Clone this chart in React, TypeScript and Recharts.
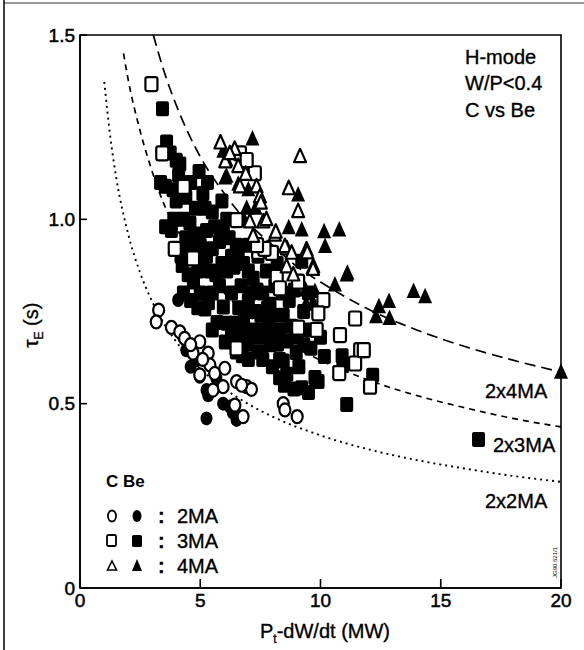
import React from 'react';
import { ScatterChart, Scatter, XAxis, YAxis, ReferenceArea } from 'recharts';

// axis ticks
const xTicks = [0, 5, 10, 15, 20];
const yTicks = [0, 0.5, 1.0, 1.5];

// C wall, 2MA (open circles)
const c2MA = [
  [3.27, 0.754], [3.17, 0.722], [3.8, 0.707], [4.15, 0.695], [4.35, 0.677], [4.98, 0.668],
  [4.7, 0.637], [5.33, 0.637], [5.4, 0.605], [4.98, 0.578], [5.6, 0.582], [6.02, 0.596],
  [6.51, 0.56], [6.93, 0.546], [7.13, 0.539], [6.72, 0.55], [5.95, 0.546], [5.53, 0.537],
  [6.44, 0.496], [6.78, 0.465], [8.45, 0.5], [8.52, 0.483], [9.03, 0.465], [4.6, 0.66], [5.1, 0.62],
];
// Be wall, 2MA (filled circles)
const be2MA = [
  [4.08, 0.781], [4.28, 0.682], [4.42, 0.645], [4.84, 0.618], [4.98, 0.573], [5.26, 0.537],
  [5.33, 0.523], [5.67, 0.569], [5.95, 0.5], [6.23, 0.492], [6.35, 0.476], [5.26, 0.46],
  [6.51, 0.456], [4.6, 0.6],
];
// C wall, 3MA (open squares)
const c3MA = [
  [2.97, 1.367], [3.42, 1.179], [4.31, 1.088], [6.51, 0.998], [7.27, 1.125], [6.65, 1.179],
  [6.93, 1.161], [7.41, 0.912], [4.7, 0.894], [3.94, 0.92], [8.18, 0.844], [8.31, 0.813],
  [10.12, 0.781], [11.44, 0.731], [10.81, 0.686], [11.65, 0.645], [11.44, 0.609], [10.78, 0.583],
  [9.84, 0.7], [9.91, 0.745], [12.06, 0.546], [6.51, 0.65], [9.07, 0.831], [9.07, 0.706],
  [7.98, 0.909], [7.67, 0.92], [7.36, 0.93], [11.8, 0.645],
];
// Be wall, 3MA (filled squares)
const be3MA = [
  [3.43, 1.3], [3.6, 1.21], [3.75, 1.18], [4.0, 1.16], [4.15, 1.15], [4.1, 1.12], [4.95, 1.13],
  [3.35, 1.1], [3.55, 1.09], [3.87, 1.08], [4.0, 1.05], [4.4, 1.06], [5.11, 1.07], [5.2, 1.03],
  [4.8, 1.03], [3.56, 0.98], [3.8, 0.97], [4.57, 0.99], [4.3, 1.0], [5.26, 0.97], [4.9, 0.96],
  [5.6, 0.98], [5.96, 0.965], [4.02, 0.92], [4.2, 0.9], [4.25, 0.875], [4.5, 0.92], [4.7, 0.95],
  [5.0, 0.93], [5.26, 0.9], [5.5, 0.92], [5.8, 0.94], [6.2, 0.95], [6.5, 0.93], [6.58, 0.9],
  [4.72, 0.83], [4.5, 0.85], [4.9, 0.86], [5.1, 0.88], [5.4, 0.86], [5.65, 0.85], [5.9, 0.88],
  [6.1, 0.86], [6.4, 0.87], [6.8, 0.88], [7.0, 0.86], [5.34, 0.774], [5.19, 0.757], [5.5, 0.8],
  [5.8, 0.82], [5.96, 0.762], [6.12, 0.718], [6.04, 0.667], [6.3, 0.8], [6.43, 0.718], [6.6, 0.76],
  [6.7, 0.82], [6.97, 0.661], [7.0, 0.78], [7.2, 0.84], [7.36, 0.808], [7.3, 0.75], [7.52, 0.74],
  [7.6, 0.8], [7.7, 0.68], [7.83, 0.706], [7.9, 0.77], [8.0, 0.74], [8.1, 0.82], [8.21, 0.661],
  [8.3, 0.7], [8.45, 0.616], [8.45, 0.74], [8.6, 0.67], [8.7, 0.78], [8.8, 0.71], [8.99, 0.639],
  [9.0, 0.68], [9.22, 0.543], [9.1, 0.6], [9.3, 0.75], [9.5, 0.7], [9.6, 0.65], [9.77, 0.571],
  [9.22, 0.886], [8.91, 0.808], [9.5, 0.8], [10.16, 0.628], [10.0, 0.68], [10.93, 0.605],
  [11.09, 0.498], [12.17, 0.577], [10.9, 0.63], [7.1, 0.7], [6.8, 0.72], [7.4, 0.64], [7.6, 0.62],
  [8.0, 0.6], [8.3, 0.62], [8.6, 0.58], [7.0, 0.62], [6.5, 0.64], [6.3, 0.69], [5.7, 0.72],
  [5.5, 0.7], [7.75, 0.86], [8.2, 0.88], [7.4, 0.9], [7.0, 0.93], [6.1, 1.0], [5.5, 1.02],
  [4.6, 1.1], [8.5, 0.55], [8.9, 0.54], [9.5, 0.53], [9.9, 0.56], [8.3, 0.57], [7.9, 0.66],
  [7.5, 0.7], [6.9, 0.75], [6.6, 0.68], [4.3, 0.8], [4.6, 0.78], [4.9, 0.76], [5.0, 0.8],
  [4.4, 0.95], [3.9, 1.0], [5.3, 1.1], [5.9, 1.05], [6.3, 0.9], [7.1, 0.8], [7.8, 0.76],
  [8.4, 0.8], [8.1, 0.69], [7.3, 0.68], [6.75, 0.63], [9.3, 0.66], [16.57, 0.403],
];
// C wall, 4MA (open triangles)
const c4MA = [
  [5.84, 1.207], [6.43, 1.19], [6.04, 1.156], [6.23, 1.178], [6.58, 1.143], [6.65, 1.088],
  [6.89, 1.122], [7.34, 1.088], [7.48, 1.061], [7.52, 1.044], [7.62, 0.993], [7.75, 0.999],
  [7.06, 0.993], [7.2, 0.954], [8.1, 0.957], [8.14, 0.965], [8.68, 1.083], [9.15, 1.17],
  [9.07, 1.021], [8.6, 0.92], [8.52, 0.926], [8.8, 0.908], [9.42, 0.917], [9.45, 0.909],
  [9.7, 0.871], [8.59, 0.871], [8.87, 0.849], [9.69, 0.864],
];
// Be wall, 4MA (filled triangles)
const be4MA = [
  [7.17, 1.218], [5.96, 1.185], [6.09, 1.161], [6.04, 1.112], [6.09, 1.117], [6.58, 1.095],
  [6.93, 1.03], [6.82, 0.999], [9.07, 1.066], [9.22, 0.971], [8.68, 0.977], [10.15, 0.966],
  [10.78, 0.971], [10.19, 0.926], [11.12, 0.854], [10.6, 0.822], [12.43, 0.763], [12.85, 0.777],
  [12.31, 0.736], [12.87, 0.731], [13.87, 0.804], [14.35, 0.79], [20, 0.585], [9.77, 0.804],
  [9.4, 0.77], [9.69, 0.774], [9.38, 0.808], [7.0, 1.08], [7.3, 1.03], [11.09, 0.849],
];

// scaling curves
const curve4MA = [
  [3.05, 1.5], [3.5, 1.4], [4, 1.31], [5, 1.17], [6, 1.07], [7, 0.99], [8, 0.93], [9, 0.873],
  [10, 0.83], [12, 0.756], [14, 0.7], [16, 0.655], [18, 0.618], [20, 0.586],
];
const curve3MA = [
  [1.81, 1.45], [2, 1.38], [2.5, 1.24], [3, 1.13], [3.5, 1.04], [4, 0.977], [5, 0.874], [6, 0.8],
  [7, 0.74], [8, 0.69], [10, 0.618], [12, 0.564], [14, 0.522], [16, 0.489], [18, 0.46], [20, 0.437],
];
const curve2MA = [
  [1.01, 1.373], [1.25, 1.229], [1.5, 1.116], [2, 0.961], [2.5, 0.855], [3, 0.777], [4, 0.668],
  [5, 0.595], [6, 0.541], [7, 0.499], [8, 0.465], [10, 0.414], [12, 0.376], [14, 0.347],
  [16, 0.324], [18, 0.304], [20, 0.288],
];

const pts = (a: number[][]) => a.map(([x, y]) => ({ x, y }));
const FONT = '"Liberation Sans", Arial, Helvetica, sans-serif';

const OpenCircle = ({ cx, cy }: any) => (
  <ellipse cx={cx} cy={cy} rx={5.5} ry={6.5} fill="#fff" stroke="#000" strokeWidth={2.2} />
);
const FilledCircle = ({ cx, cy }: any) => (
  <ellipse cx={cx} cy={cy} rx={6} ry={7} fill="#000" />
);
const OpenSquare = ({ cx, cy }: any) => (
  <rect x={cx - 6} y={cy - 7} width={12} height={14} rx={2} fill="#fff" stroke="#000" strokeWidth={2.2} />
);
const FilledSquare = ({ cx, cy }: any) => (
  <rect x={cx - 6.5} y={cy - 7.5} width={13} height={15} rx={2} fill="#000" />
);
const OpenTriangle = ({ cx, cy }: any) => (
  <path d={`M${cx},${cy - 8}L${cx + 6},${cy + 5.5}L${cx - 6},${cy + 5.5}Z`} fill="#fff" stroke="#000" strokeWidth={2.2} strokeLinejoin="round" />
);
const FilledTriangle = ({ cx, cy }: any) => (
  <path d={`M${cx},${cy - 9}L${cx + 7},${cy + 6.5}L${cx - 7},${cy + 6.5}Z`} fill="#000" />
);
const NoDot = () => <g />;

const tickStyle = { fill: '#000', stroke: '#000', strokeWidth: 0.5, fontSize: 19, fontFamily: FONT };

export default function App() {
  return (
    <div style={{ position: 'absolute', left: 0, top: 0, width: 584, height: 650, background: '#fff' }}>
      <ScatterChart width={584} height={650} margin={{ top: 35, right: 23, bottom: 32, left: 0 }}>
        <XAxis
          type="number"
          dataKey="x"
          domain={[0, 20]}
          ticks={xTicks}
          interval={0}
          height={30}
          tickSize={-9}
          tickMargin={15}
          axisLine={{ stroke: '#000', strokeWidth: 1.6 }}
          tickLine={{ stroke: '#000', strokeWidth: 1.6 }}
          tick={tickStyle}
        />
        <YAxis
          type="number"
          dataKey="y"
          domain={[0, 1.5]}
          ticks={yTicks}
          interval={0}
          width={80}
          tickSize={-7}
          tickMargin={12}
          tickFormatter={(v: number) => (v === 0 ? '0' : v.toFixed(1))}
          axisLine={{ stroke: '#000', strokeWidth: 1.6 }}
          tickLine={{ stroke: '#000', strokeWidth: 1.6 }}
          tick={tickStyle}
        />
        <ReferenceArea x1={0} x2={20} y1={0} y2={1.5} fill="none" stroke="#000" strokeWidth={1.6} ifOverflow="visible" />

        <Scatter data={pts(curve4MA)} shape={NoDot} line={{ stroke: '#000', strokeWidth: 1.7, strokeDasharray: '11 6' }} lineJointType="monotoneX" isAnimationActive={false} />
        <Scatter data={pts(curve3MA)} shape={NoDot} line={{ stroke: '#000', strokeWidth: 1.7, strokeDasharray: '6 5' }} lineJointType="monotoneX" isAnimationActive={false} />
        <Scatter data={pts(curve2MA)} shape={NoDot} line={{ stroke: '#000', strokeWidth: 1.9, strokeDasharray: '2 4' }} lineJointType="monotoneX" isAnimationActive={false} />

        <Scatter data={pts(be3MA)} shape={FilledSquare} isAnimationActive={false} />
        <Scatter data={pts(be2MA)} shape={FilledCircle} isAnimationActive={false} />
        <Scatter data={pts(be4MA)} shape={FilledTriangle} isAnimationActive={false} />
        <Scatter data={pts(c3MA)} shape={OpenSquare} isAnimationActive={false} />
        <Scatter data={pts(c2MA)} shape={OpenCircle} isAnimationActive={false} />
        <Scatter data={pts(c4MA)} shape={OpenTriangle} isAnimationActive={false} />
      </ScatterChart>

      <svg width={584} height={650} style={{ position: 'absolute', left: 0, top: 0, pointerEvents: 'none' }} fontFamily={FONT}>
        <line x1={4} y1={0} x2={4} y2={650} stroke="#000" strokeWidth={1.5} />
        <line x1={4} y1={3} x2={584} y2={3} stroke="#000" strokeWidth={0.8} />

        <g fontSize={20} fill="#000" stroke="#000" strokeWidth={0.35}>
          <text x={465} y={64}>H-mode</text>
          <text x={465} y={90}>W/P&lt;0.4</text>
          <text x={465} y={117}>C vs Be</text>

          <text x={485} y={398}>2x4MA</text>
          <text x={493} y={452}>2x3MA</text>
          <text x={485} y={508}>2x2MA</text>

          <text x={325} y={638} textAnchor="middle">
            P<tspan fontSize={12} dy={5}>t</tspan><tspan dy={-5}>-dW/dt (MW)</tspan>
          </text>
          <text transform="translate(38,325) rotate(-90)" textAnchor="middle">
            τ<tspan fontSize={12} dy={5}>E</tspan><tspan dy={-5}> (s)</tspan>
          </text>
        </g>

        <g fill="#000">
          <text x={106} y={487} fontSize={17} fontWeight="bold">C</text>
          <text x={123} y={487} fontSize={17} fontWeight="bold">Be</text>

          <ellipse cx={112} cy={516} rx={4} ry={5.5} fill="#fff" stroke="#000" strokeWidth={1.8} />
          <ellipse cx={137} cy={516} rx={4.5} ry={6} />
          <rect x={107} y={535} width={9} height={11} rx={1.5} fill="#fff" stroke="#000" strokeWidth={1.8} />
          <rect x={132} y={535} width={10} height={12} rx={1.5} />
          <path d="M112,561L116.5,570L107.5,570Z" fill="#fff" stroke="#000" strokeWidth={1.6} />
          <path d="M137,559L142,571L132,571Z" />

          <g fontSize={20} stroke="#000" strokeWidth={0.35}>
            <text x={158} y={523} fontWeight="bold">:</text>
            <text x={158} y={548} fontWeight="bold">:</text>
            <text x={158} y={573} fontWeight="bold">:</text>
            <text x={177} y={523}>2MA</text>
            <text x={177} y={548}>3MA</text>
            <text x={177} y={573}>4MA</text>
          </g>
        </g>

        <text transform="translate(557,578) rotate(-90)" fontSize={6} fill="#000">JG90.621/1</text>
      </svg>
    </div>
  );
}
